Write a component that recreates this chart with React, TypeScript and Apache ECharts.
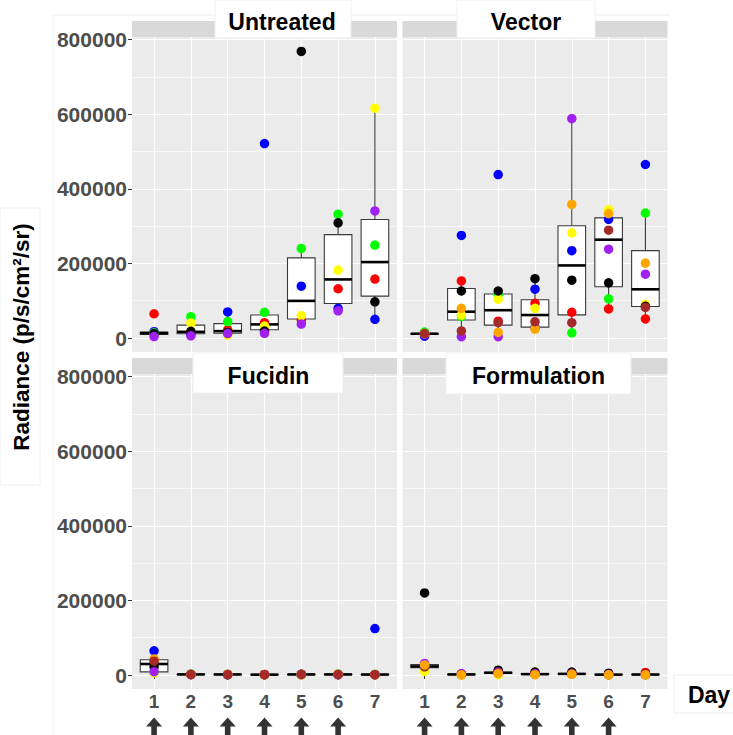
import React, { useEffect, useRef } from "react";
import * as echarts from "echarts";

// ---------- data ----------
const days = [1, 2, 3, 4, 5, 6, 7];
const yTicks = [0, 200000, 400000, 600000, 800000];
const yMinorTicks = [100000, 300000, 500000, 700000];
const arrowDays = [1, 2, 3, 4, 5, 6];
const panelNames = ["Untreated", "Vector", "Fucidin", "Formulation"];

const colorHex: Record<string, string> = {
  red: "#FF0000",
  blue: "#0000FF",
  green: "#00FF00",
  yellow: "#FFFF00",
  black: "#000000",
  purple: "#A020F0",
  orange: "#FFA500",
  brown: "#A52A2A",
};

// Untreated (6 mice), values per day 1..7
const untreatedMice = ["red", "blue", "green", "yellow", "black", "purple"];
const untreatedValues = [
  [65000, 15000, 22000, 41000, 48000, 132000, 158000],
  [17000, 10000, 70000, 521000, 139000, 79500, 50000],
  [14000, 57000, 44000, 68700, 240000, 332000, 249000],
  [9000, 40000, 8000, 32000, 60000, 182000, 616000],
  [12000, 18000, 15000, 18700, 768000, 308600, 97000],
  [4000, 6000, 12000, 12500, 37500, 73000, 340600],
];

// Vector (8 mice)
const vectorMice = ["red", "blue", "green", "yellow", "black", "purple", "orange", "brown"];
const vectorValues = [
  [11000, 153000, 45000, 93000, 69000, 78000, 51000],
  [5000, 275000, 438000, 131000, 234000, 318000, 465000],
  [16000, 58000, 115000, 30000, 14000, 105000, 335000],
  [12000, 61500, 104000, 79500, 282000, 344000, 90000],
  [11000, 126000, 126000, 159000, 155000, 148000, 85000],
  [10000, 3500, 3500, 27000, 588000, 238000, 171000],
  [12000, 79500, 15000, 24000, 358000, 333600, 200700],
  [12000, 19000, 41000, 43600, 41000, 289000, 82000],
];

// Fucidin (8 mice)
const fucidinMice = ["red", "blue", "green", "yellow", "black", "purple", "orange", "brown"];
const fucidinValues = [
  [40000, 2000, 1500, 1000, 2000, 1500, 1000],
  [65000, 1500, 1000, 1500, 1000, 2000, 124500],
  [7000, 2500, 2000, 1000, 1500, 2500, 2000],
  [6000, 1000, 1500, 2000, 1000, 1000, 1500],
  [22000, 1500, 1000, 1000, 2000, 1000, 1000],
  [9000, 1000, 2000, 1500, 1500, 1000, 1500],
  [43000, 2000, 1500, 1000, 1000, 2000, 1000],
  [37000, 1500, 1000, 1000, 1500, 1500, 1000],
];

// Formulation (8 mice)
const formulationMice = ["red", "blue", "green", "yellow", "black", "purple", "brown", "orange"];
const formulationValues = [
  [24000, 2000, 7000, 3000, 3500, 1500, 7000],
  [20000, 1500, 6000, 2500, 3000, 1000, 1000],
  [18000, 1000, 5000, 2000, 3000, 1000, 1000],
  [10000, 1000, 1000, 1500, 2500, 500, 1000],
  [220000, 2500, 13000, 8000, 8000, 5000, 2000],
  [31000, 4000, 8000, 4000, 4000, 2000, 1500],
  [22000, 1500, 6000, 2000, 3000, 1000, 1500],
  [27000, 500, 4000, 1000, 2000, 500, 500],
];

// ---------- helpers ----------
function quantile(s: number[], p: number) {
  const h = (s.length - 1) * p;
  const lo = Math.floor(h);
  const hiV = lo + 1 < s.length ? s[lo + 1] : s[lo];
  return s[lo] + (h - lo) * (hiV - s[lo]);
}
function boxStats(vals: number[]) {
  const s = [...vals].sort((a, b) => a - b);
  const q1 = quantile(s, 0.25);
  const med = quantile(s, 0.5);
  const q3 = quantile(s, 0.75);
  const iqr = q3 - q1;
  const lo = s.find((v) => v >= q1 - 1.5 * iqr) as number;
  const hi = [...s].reverse().find((v) => v <= q3 + 1.5 * iqr) as number;
  return [lo, q1, med, q3, hi];
}

const FONT = "Liberation Sans, Arial, sans-serif";
const Y_MIN = -37500;
const Y_MAX = 806700;

const grids = [
  { left: 132, top: 37, width: 265, height: 315 },
  { left: 402.5, top: 37, width: 265, height: 315 },
  { left: 132, top: 374, width: 265, height: 315 },
  { left: 402.5, top: 374, width: 265, height: 315 },
];

const panels = [
  { mice: untreatedMice, values: untreatedValues },
  { mice: vectorMice, values: vectorValues },
  { mice: fucidinMice, values: fucidinValues },
  { mice: formulationMice, values: formulationValues },
];

function buildOption() {
  const xAxis: any[] = [];
  const yAxis: any[] = [];
  const series: any[] = [];

  grids.forEach((_, gi) => {
    const bottom = gi >= 2;
    xAxis.push({
      type: "value",
      gridIndex: gi,
      min: 0.4,
      max: 7.6,
      axisLine: { show: false },
      axisTick: {
        show: bottom,
        customValues: days,
        length: 4,
        lineStyle: { color: "#333333", width: 1 },
      },
      axisLabel: {
        show: bottom,
        customValues: days,
        margin: 3,
        fontSize: 19,
        fontWeight: "bold",
        color: "#4d4d4d",
        fontFamily: FONT,
        formatter: (v: number) => String(v),
      },
      splitLine: { show: true, lineStyle: { color: "#ffffff", width: 1.2 } },
    });
  });
  grids.forEach((_, gi) => {
    const left = gi % 2 === 0;
    yAxis.push({
      type: "value",
      gridIndex: gi,
      min: Y_MIN,
      max: Y_MAX,
      axisLine: { show: false },
      axisTick: {
        show: left,
        customValues: yTicks,
        length: 4,
        lineStyle: { color: "#333333", width: 1 },
      },
      axisLabel: {
        show: left,
        customValues: yTicks,
        margin: 5,
        fontSize: 21,
        fontWeight: "bold",
        color: "#4d4d4d",
        fontFamily: FONT,
        formatter: (v: number) => String(v),
      },
      splitLine: { show: true, lineStyle: { color: "#ffffff", width: 1.2 } },
    });
  });
  grids.forEach((_, gi) => {
    yAxis.push({
      type: "value",
      gridIndex: gi,
      position: "left",
      min: Y_MIN,
      max: Y_MAX,
      axisLine: { show: false },
      axisTick: { show: false, customValues: yMinorTicks },
      axisLabel: { show: false, customValues: yMinorTicks },
      splitLine: { show: true, lineStyle: { color: "#ffffff", width: 0.6 } },
    });
  });

  panels.forEach((p, gi) => {
    const boxData = days.map((d, di) => [d, ...boxStats(p.values.map((row) => row[di]))]);
    series.push({
      type: "custom",
      xAxisIndex: gi,
      yAxisIndex: gi,
      z: 2,
      silent: true,
      encode: { x: 0, y: [1, 2, 3, 4, 5] },
      data: boxData,
      renderItem: (params: any, api: any) => {
        const d = api.value(0);
        const lo = api.value(1);
        const q1 = api.value(2);
        const med = api.value(3);
        const q3 = api.value(4);
        const hi = api.value(5);
        const pl = api.coord([d - 0.375, q3]);
        const pr = api.coord([d + 0.375, q1]);
        const pc = api.coord([d, lo]);
        const ph = api.coord([d, hi]);
        const pm = api.coord([d, med]);
        const stroke = "#3a3a3a";
        return {
          type: "group",
          children: [
            { type: "line", shape: { x1: pc[0], y1: ph[1], x2: pc[0], y2: pl[1] }, style: { stroke, lineWidth: 1.1 } },
            { type: "line", shape: { x1: pc[0], y1: pr[1], x2: pc[0], y2: pc[1] }, style: { stroke, lineWidth: 1.1 } },
            {
              type: "rect",
              shape: { x: pl[0], y: pl[1], width: pr[0] - pl[0], height: pr[1] - pl[1] },
              style: { fill: "#ffffff", stroke, lineWidth: 1.1 },
            },
            { type: "line", shape: { x1: pl[0], y1: pm[1], x2: pr[0], y2: pm[1] }, style: { stroke: "#000000", lineWidth: 2.6 } },
          ],
        };
      },
    });
    p.mice.forEach((m, mi) => {
      series.push({
        type: "scatter",
        xAxisIndex: gi,
        yAxisIndex: gi,
        z: 3,
        symbolSize: 9.5,
        silent: true,
        itemStyle: { color: colorHex[m], opacity: 1 },
        data: days.map((d, di) => [d, p.values[mi][di]]),
      });
    });
    if (gi >= 2) {
      series.push({
        type: "scatter",
        xAxisIndex: gi,
        yAxisIndex: gi,
        z: 3,
        clip: false,
        silent: true,
        symbol: "path://M8 0 L16 9 L10.8 9 L10.8 19 L5.2 19 L5.2 9 L0 9 Z",
        symbolSize: [16, 19],
        symbolOffset: [0, 52],
        itemStyle: { color: "#000000" },
        data: arrowDays.map((d) => [d, 0]),
      });
    }
  });

  const stripY = [21, 21, 358, 358];
  const labelBoxes = [
    { x: 215, y: 0, w: 136, h: 38, cx: 282, cy: 22 },
    { x: 457, y: 0, w: 138, h: 38, cx: 526, cy: 22 },
    { x: 193, y: 353, w: 150, h: 40, cx: 268.5, cy: 376 },
    { x: 446, y: 353, w: 185, h: 41, cx: 538.5, cy: 376 },
  ];
  const graphic: any[] = [
    { type: "line", z: 1, shape: { x1: 53, y1: 15, x2: 670, y2: 15 }, style: { stroke: "#efefef", lineWidth: 1 } },
    { type: "line", z: 1, shape: { x1: 53, y1: 15, x2: 53, y2: 735 }, style: { stroke: "#efefef", lineWidth: 1 } },
  ];
  grids.forEach((g, gi) => {
    graphic.push({
      type: "rect",
      z: 100,
      shape: { x: g.left, y: stripY[gi], width: g.width, height: 16 },
      style: { fill: "#d9d9d9" },
    });
    const b = labelBoxes[gi];
    graphic.push({
      type: "rect",
      z: 101,
      shape: { x: b.x, y: b.y, width: b.w, height: b.h },
      style: { fill: "#ffffff", stroke: "#f0f0f0", lineWidth: 1 },
    });
    graphic.push({
      type: "text",
      z: 102,
      x: b.cx,
      y: b.cy,
      style: {
        text: panelNames[gi],
        fontSize: 23,
        fontWeight: "bold",
        fontFamily: FONT,
        fill: "#000000",
        textAlign: "center",
        textVerticalAlign: "middle",
      },
    });
  });
  graphic.push({
    type: "rect",
    z: 100,
    shape: { x: 0, y: 208, width: 40, height: 277 },
    style: { fill: "#ffffff", stroke: "#f0f0f0", lineWidth: 1 },
  });
  graphic.push({
    type: "text",
    z: 101,
    x: 21,
    y: 337,
    rotation: Math.PI / 2,
    style: {
      text: "Radiance (p/s/cm²/sr)",
      fontSize: 22.5,
      fontWeight: "bold",
      fontFamily: FONT,
      fill: "#000000",
      textAlign: "center",
      textVerticalAlign: "middle",
    },
  });
  graphic.push({
    type: "rect",
    z: 100,
    shape: { x: 674, y: 675, width: 62, height: 38 },
    style: { fill: "#ffffff", stroke: "#eeeeee", lineWidth: 1 },
  });
  graphic.push({
    type: "text",
    z: 101,
    x: 709,
    y: 695,
    style: {
      text: "Day",
      fontSize: 23,
      fontWeight: "bold",
      fontFamily: FONT,
      fill: "#000000",
      textAlign: "center",
      textVerticalAlign: "middle",
    },
  });

  return {
    animation: false,
    backgroundColor: "#ffffff",
    grid: grids.map((g) => ({
      ...g,
      show: true,
      backgroundColor: "#ebebeb",
      borderWidth: 0,
      containLabel: false,
      outerBoundsMode: "none",
    })),
    xAxis,
    yAxis,
    series,
    graphic,
  };
}

export default function App() {
  const ref = useRef<HTMLDivElement>(null);
  useEffect(() => {
    if (!ref.current) return;
    const chart = echarts.init(ref.current, undefined, { renderer: "svg" });
    chart.setOption(buildOption() as any);
    return () => chart.dispose();
  }, []);
  return (
    <div
      ref={ref}
      style={{ position: "fixed", left: 0, top: 0, width: 733, height: 735, background: "#fff" }}
    />
  );
}
